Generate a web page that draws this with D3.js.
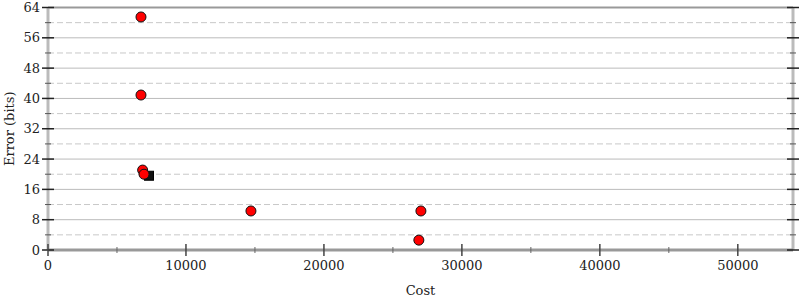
<!DOCTYPE html>
<html>
<head>
<meta charset="utf-8">
<script src="https://cdn.jsdelivr.net/npm/d3@7"></script>
<style>
  body { margin: 0; background: #fff; }
  text { font-family: "DejaVu Serif", serif; }
</style>
</head>
<body>
<script>
const costs = [6740, 6740, 6860, 6960, 14710, 27030, 26880]
const errors = [61.5, 40.9, 21.1, 20.0, 10.3, 10.3, 2.6]
const bestCost = [7320]
const bestError = [19.6]
const xTicks = [0, 10000, 20000, 30000, 40000, 50000]
const yTicks = [0, 8, 16, 24, 32, 40, 48, 56, 64]

const width = 800, height = 300
const m = {left: 48, right: 7, top: 7.5, bottom: 50}

const svg = d3.select("body").append("svg")
    .attr("width", width)
    .attr("height", height)

const x = d3.scaleLinear().domain([0, 54000]).range([m.left, width - m.right])
const y = d3.scaleLinear().domain([0, 64]).range([height - m.bottom, m.top])

// grid
const major = d3.range(8, 64, 8)
const minor = d3.range(4, 64, 8)
svg.append("g").selectAll("line")
    .data(major)
    .join("line")
    .attr("x1", x(0)).attr("x2", x(54000))
    .attr("y1", d => y(d)).attr("y2", d => y(d))
    .attr("stroke", "#bbb")
    .attr("stroke-width", 1)
svg.append("g").selectAll("line")
    .data(minor)
    .join("line")
    .attr("x1", x(0)).attr("x2", x(54000))
    .attr("y1", d => y(d)).attr("y2", d => y(d))
    .attr("stroke", "#c8c8c8")
    .attr("stroke-dasharray", "6,3")

// frame
svg.append("line")
    .attr("x1", x(0)).attr("x2", x(54000))
    .attr("y1", y(64)).attr("y2", y(64))
    .attr("stroke", "#999").attr("stroke-width", 2)
svg.append("line")
    .attr("x1", x(0)).attr("x2", x(0))
    .attr("y1", y(64)).attr("y2", y(0))
    .attr("stroke", "#bbb").attr("stroke-width", 3)
svg.append("line")
    .attr("x1", x(54000)).attr("x2", x(54000))
    .attr("y1", y(64)).attr("y2", y(0))
    .attr("stroke", "#bbb").attr("stroke-width", 3)
svg.append("line")
    .attr("x1", x(0)).attr("x2", x(54000))
    .attr("y1", y(0)).attr("y2", y(0))
    .attr("stroke", "#999").attr("stroke-width", 3)

// y ticks left and right
const yt = svg.append("g")
yt.selectAll(".ymaj")
    .data(yTicks)
    .join("line")
    .attr("x1", x(0) - 6).attr("x2", x(0) + 6)
    .attr("y1", d => y(d)).attr("y2", d => y(d))
    .attr("stroke", "#222").attr("stroke-width", 1.5)
yt.selectAll(".ymin")
    .data(minor)
    .join("line")
    .attr("x1", x(0) - 3).attr("x2", x(0) + 3)
    .attr("y1", d => y(d)).attr("y2", d => y(d))
    .attr("stroke", "#555").attr("stroke-width", 1)
const yr = svg.append("g")
yr.selectAll("line.maj")
    .data(yTicks)
    .join("line")
    .attr("x1", x(54000) - 6).attr("x2", x(54000) + 6)
    .attr("y1", d => y(d)).attr("y2", d => y(d))
    .attr("stroke", "#222").attr("stroke-width", 1.5)
svg.append("g").selectAll("line")
    .data(minor)
    .join("line")
    .attr("x1", x(54000) - 3).attr("x2", x(54000) + 3)
    .attr("y1", d => y(d)).attr("y2", d => y(d))
    .attr("stroke", "#555").attr("stroke-width", 1)
yt.selectAll("text")
    .data(yTicks)
    .join("text")
    .attr("x", x(0) - 8)
    .attr("y", d => y(d))
    .attr("dy", "0.35em")
    .attr("text-anchor", "end")
    .attr("font-size", 13)
    .attr("fill", "#222")
    .text(d => d)

// x ticks
const xt = svg.append("g")
xt.selectAll("line.maj")
    .data(xTicks)
    .join("line")
    .attr("x1", d => x(d)).attr("x2", d => x(d))
    .attr("y1", y(0) - 6).attr("y2", y(0) + 6)
    .attr("stroke", "#444").attr("stroke-width", 1.5)
svg.append("g").selectAll("line")
    .data(d3.range(5000, 54000, 10000))
    .join("line")
    .attr("x1", d => x(d)).attr("x2", d => x(d))
    .attr("y1", y(0) - 3).attr("y2", y(0) + 3)
    .attr("stroke", "#666").attr("stroke-width", 1)
xt.selectAll("text")
    .data(xTicks)
    .join("text")
    .attr("x", d => x(d))
    .attr("y", y(0) + 20)
    .attr("text-anchor", "middle")
    .attr("font-size", 13)
    .attr("fill", "#222")
    .text(d => d)

// axis labels
svg.append("text")
    .attr("x", (x(0) + x(54000)) / 2)
    .attr("y", 295)
    .attr("text-anchor", "middle")
    .attr("font-size", 13)
    .attr("fill", "#222")
    .text("Cost")
svg.append("text")
    .attr("transform", `translate(14,${(y(0) + y(64)) / 2}) rotate(-90)`)
    .attr("text-anchor", "middle")
    .attr("font-size", 13)
    .attr("fill", "#222")
    .text("Error (bits)")

// best point (square)
svg.append("g").selectAll("rect")
    .data(bestCost)
    .join("rect")
    .attr("x", (d, i) => x(d) - 4.5)
    .attr("y", (d, i) => y(bestError[i]) - 4.5)
    .attr("width", 9).attr("height", 9)
    .attr("fill", "#111")
    .attr("stroke", "#000")

// points
svg.append("g").selectAll("circle")
    .data(costs)
    .join("circle")
    .attr("cx", d => x(d))
    .attr("cy", (d, i) => y(errors[i]))
    .attr("r", 5)
    .attr("fill", "#f00")
    .attr("stroke", "#111")
    .attr("stroke-width", 1)
</script>
</body>
</html>
